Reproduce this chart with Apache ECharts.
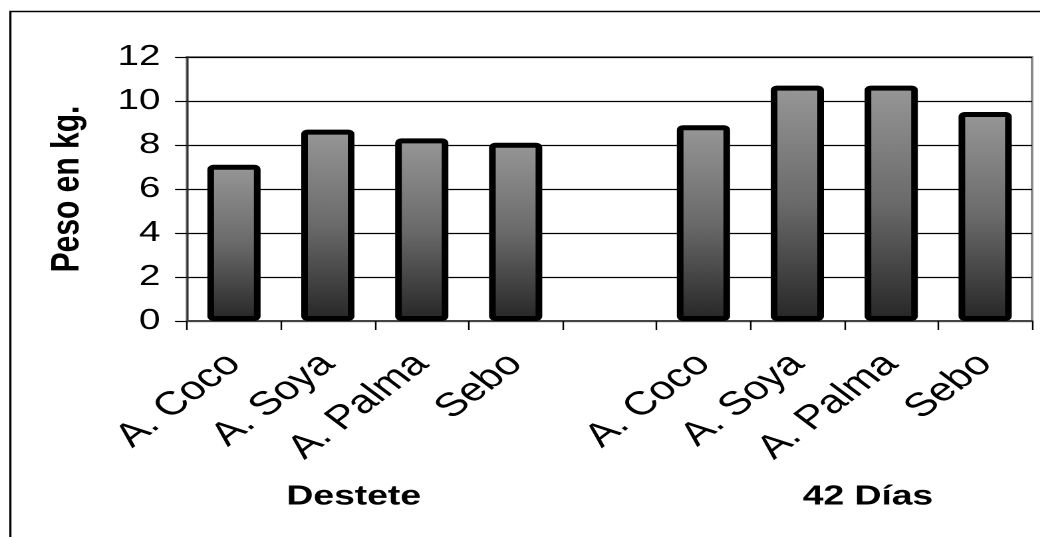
<!DOCTYPE html>
<html>
<head>
<meta charset="utf-8">
<style>
  html, body { margin: 0; padding: 0; background: #fff; overflow: hidden; }
  /* chart is laid out narrow and widened horizontally, giving the broad lettering */
  #chart { width: 782px; height: 537px; transform: scaleX(1.33); transform-origin: 0 0; }
</style>
<script src="https://cdn.jsdelivr.net/npm/echarts@6/dist/echarts.min.js"></script>
</head>
<body>
<div id="chart"></div>
<script>
// Weight (kg) by fat source, at weaning and at 42 days
const categories = ['A. Coco', 'A. Soya', 'A. Palma', 'Sebo', '', 'A. Coco', 'A. Soya', 'A. Palma', 'Sebo'];
const destete = [7.1, 8.7, 8.3, 8.1];
const dias42 = [8.9, 10.7, 10.7, 9.5];
const groupLabels = ['Destete', '42 Días'];
const yTicks = [0, 2, 4, 6, 8, 10, 12];

// empty slot separates the two groups
const values = destete.concat(['-'], dias42);
const FONT = '"Liberation Sans", Arial, sans-serif';

const chart = echarts.init(document.getElementById('chart'), null, { renderer: 'canvas', devicePixelRatio: 2 });

chart.setOption({
  backgroundColor: '#fff',
  animation: false,
  grid: {
    left: 140.6, right: 6, top: 57, bottom: 216,
    show: true, borderColor: '#8a8a8a', borderWidth: 2, backgroundColor: 'transparent'
  },
  xAxis: {
    type: 'category',
    data: categories,
    boundaryGap: true,
    axisLine: { show: true, lineStyle: { color: '#444', width: 2 } },
    axisTick: { show: true, length: 9, lineStyle: { color: '#000', width: 1.2 } },
    axisLabel: {
      rotate: 45, margin: 38, interval: 0,
      fontFamily: FONT, fontSize: 33, color: '#000'
    },
    splitLine: { show: false }
  },
  yAxis: {
    type: 'value',
    min: yTicks[0], max: yTicks[yTicks.length - 1], interval: 2,
    name: 'Peso en kg.',
    nameLocation: 'middle',
    nameGap: 75,
    nameRotate: 90,
    nameTextStyle: { fontFamily: FONT, fontSize: 30, fontWeight: 'bold', color: '#000' },
    axisLine: { show: true, lineStyle: { color: '#333', width: 1.5 } },
    axisTick: { show: true, length: 9, lineStyle: { color: '#000', width: 1.2 } },
    axisLabel: { margin: 20, fontFamily: FONT, fontSize: 29, color: '#000' },
    splitLine: { show: true, lineStyle: { color: '#000', width: 1.2 } }
  },
  series: [{
    type: 'bar',
    data: values,
    barWidth: 40,
    itemStyle: {
      color: new echarts.graphic.LinearGradient(0, 0, 0, 1, [
        { offset: 0, color: '#979797' },
        { offset: 0.5, color: '#6a6a6a' },
        { offset: 1, color: '#262626' }
      ]),
      borderColor: '#000',
      borderWidth: 5,
      borderRadius: 2
    }
  }],
  graphic: [
    {
      type: 'rect', left: 5.3, top: 9, silent: true,
      shape: { width: 900, height: 600 },
      style: { fill: 'none', stroke: '#000', lineWidth: 1.6 }
    },
    {
      type: 'text', x: 266, y: 497,
      style: { text: groupLabels[0], font: 'bold 28px ' + FONT, fill: '#000', textAlign: 'center', textVerticalAlign: 'middle' }
    },
    {
      type: 'text', x: 652.6, y: 497,
      style: { text: groupLabels[1], font: 'bold 28px ' + FONT, fill: '#000', textAlign: 'center', textVerticalAlign: 'middle' }
    }
  ]
});
</script>
</body>
</html>
